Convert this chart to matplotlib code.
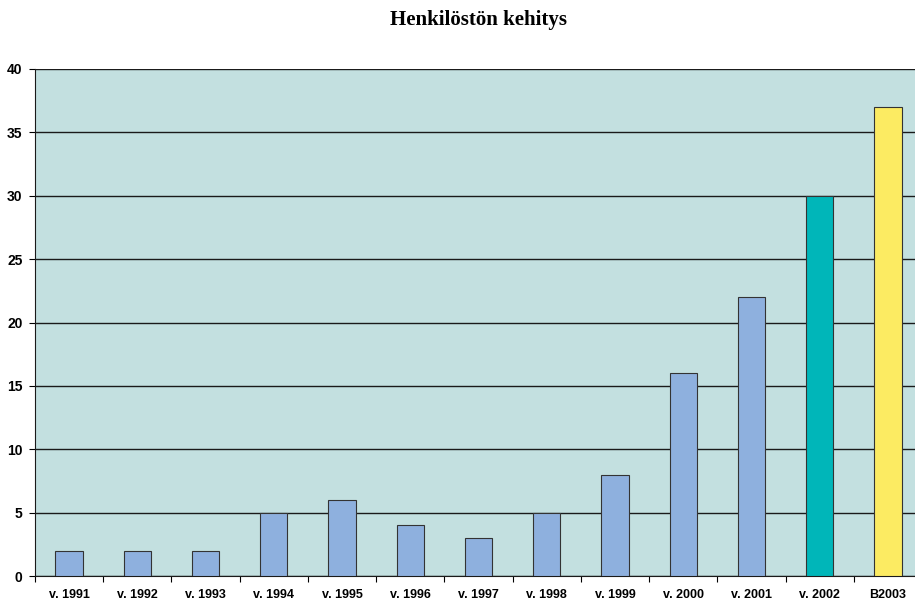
import matplotlib.pyplot as plt
import numpy as np

years = ["v. 1991", "v. 1992", "v. 1993", "v. 1994", "v. 1995", "v. 1996", "v. 1997",
         "v. 1998", "v. 1999", "v. 2000", "v. 2001", "v. 2002", "B2003"]
staff = [2, 2, 2, 5, 6, 4, 3, 5, 8, 16, 22, 30, 37]
bar_colors = ["#8EB0DE"] * 11 + ["#00B6B9", "#FCEB62"]

fig = plt.figure(figsize=(9.15, 6.02), dpi=100)
# axis runs a little past the right edge of the picture, like the original
ax = fig.add_axes([35 / 915, 26 / 602, 887 / 915, 507 / 602])
ax.set_facecolor("#C3E0E0")

x = np.arange(len(years))
ax.bar(x, staff, width=0.4, color=bar_colors, edgecolor="#333333", linewidth=0.8, zorder=3)

ax.set_xlim(-0.5, len(years) - 0.5)
ax.set_ylim(0, 40)
ax.set_yticks(range(0, 41, 5))
ax.yaxis.grid(True, color="#1a1a1a", linewidth=1.0, zorder=1)
ax.set_axisbelow(True)

ax.set_xticks(x)
ax.set_xticklabels(years, fontsize=9, fontweight="bold", family="Liberation Sans")
ax.set_xticks(np.arange(-0.5, len(years), 1), minor=True)
ax.tick_params(axis="x", which="major", length=0, pad=14)
ax.tick_params(axis="x", which="minor", length=4, width=0.8, direction="out")
ax.tick_params(axis="y", length=4, width=0.8, direction="out", pad=5)
for lbl in ax.get_yticklabels():
    lbl.set_fontweight("bold")
    lbl.set_fontsize(10)
    lbl.set_family("Liberation Sans")
for lbl in ax.get_xticklabels():
    lbl.set_verticalalignment("center")

for side in ["top", "right"]:
    ax.spines[side].set_visible(False)
ax.spines["left"].set_color("#1a1a1a")
ax.spines["bottom"].set_color("#1a1a1a")

fig.text(478 / 915, 1 - 20 / 602, "Henkilöstön kehitys", ha="center", va="center",
         fontsize=15, fontweight="bold", family="Liberation Serif")

fig.savefig("out.png", dpi=100)
